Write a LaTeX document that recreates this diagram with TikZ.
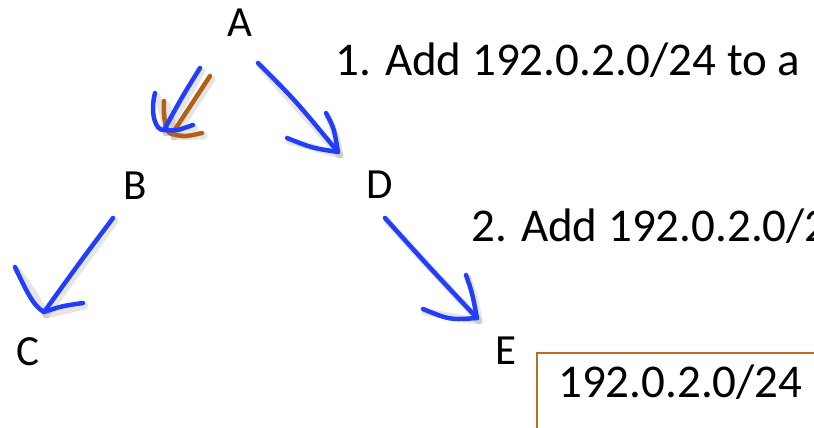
\documentclass[tikz,border=0pt]{standalone}
\usepackage{fontspec}
\setmainfont{Carlito}
\usetikzlibrary{calc}
\definecolor{penblue}{RGB}{35,62,250}
\definecolor{penbrown}{RGB}{178,96,22}
\definecolor{boxbrown}{RGB}{185,110,40}
\tikzset{
  letter/.style={font=\fontsize{43}{43}\selectfont, inner sep=0pt, anchor=base},
  sentence/.style={font=\fontsize{47}{47}\selectfont, inner sep=0pt, anchor=base west},
  pen/.style={draw=penblue, line width=4.5pt, line cap=round, line join=round},
  brownpen/.style={draw=penbrown, line width=4.5pt, line cap=round, line join=round},
  shade/.style={draw=black, opacity=0.10, line width=7pt, line cap=round, line join=round, transform canvas={shift={(2pt,-3pt)}}},
  boxline/.style={draw=boxbrown, line width=1.5pt}
}
\begin{document}
\begin{tikzpicture}[x=1pt,y=-1pt]
\useasboundingbox (0,0) rectangle (814,428);
\clip (0,0) rectangle (814,428);
% nodes
\node[letter] (A) at (240,37) {A};
\node[letter] (B) at (135,199) {B};
\node[letter] (C) at (28,365) {C};
\node[letter] (D) at (380,198) {D};
\node[letter] (E) at (506,364) {E};
\node[sentence] (t1) at (335,76) {1. Add 192.0.2.0/24 to a};
\node[sentence] (t2) at (471,241) {2. Add 192.0.2.0/2};
% box
\draw[boxline] (537,353) rectangle (840,450);
\node[sentence] (box) at (558,397) {192.0.2.0/24};
% arrow endpoints
\coordinate (adS) at (258,63);   \coordinate (adT) at (338,152);
\coordinate (adH1) at (326,113); \coordinate (adH2) at (287,138);
\coordinate (abS) at (200,68);   \coordinate (abT) at (164,130);
\coordinate (abH1) at (155,93);  \coordinate (abH2) at (193,125);
\coordinate (brS) at (210,76);   \coordinate (brT) at (172,134);
\coordinate (brH1) at (164,101); \coordinate (brH2) at (202,133);
\coordinate (bcS) at (113,218);  \coordinate (bcT) at (44,312);
\coordinate (bcH1) at (15,267);  \coordinate (bcH2) at (83,303);
\coordinate (deS) at (385,218);  \coordinate (deT) at (477,318);
\coordinate (deH1) at (466,275); \coordinate (deH2) at (423,309);
% shadows
\foreach \s/\t/\a/\b in {adS/adT/adH1/adH2, abS/abT/abH1/abH2, brS/brT/brH1/brH2, bcS/bcT/bcH1/bcH2, deS/deT/deH1/deH2}{
  \draw[shade] (\s) -- (\t);
  \draw[shade] (\a) .. controls ($(\a)!0.5!(\t)+(2,0)$) .. (\t) -- (\b);
}
% brown arrow A->B
\draw[brownpen] (brS) .. controls (193,102) .. (brT);
\draw[brownpen] (brH1) .. controls (163,118) and (166,134) .. (brT) .. controls (184,137) .. (brH2);
% blue arrows
\draw[pen] (adS) .. controls (295,100) .. (adT);
\draw[pen] (adH1) .. controls (334,128) .. (adT) .. controls (312,148) .. (adH2);
\draw[pen] (abS) .. controls (182,97) .. (abT);
\draw[pen] (abH1) .. controls (150,112) and (155,131) .. (abT) .. controls (176,131) .. (abH2);
\draw[pen] (bcS) .. controls (80,262) .. (bcT);
\draw[pen] (bcH1) .. controls (26,290) and (33,306) .. (bcT) .. controls (62,306) .. (bcH2);
\draw[pen] (deS) .. controls (430,268) .. (deT);
\draw[pen] (deH1) .. controls (472,292) .. (deT) .. controls (450,320) .. (deH2);
\end{tikzpicture}
\end{document}
